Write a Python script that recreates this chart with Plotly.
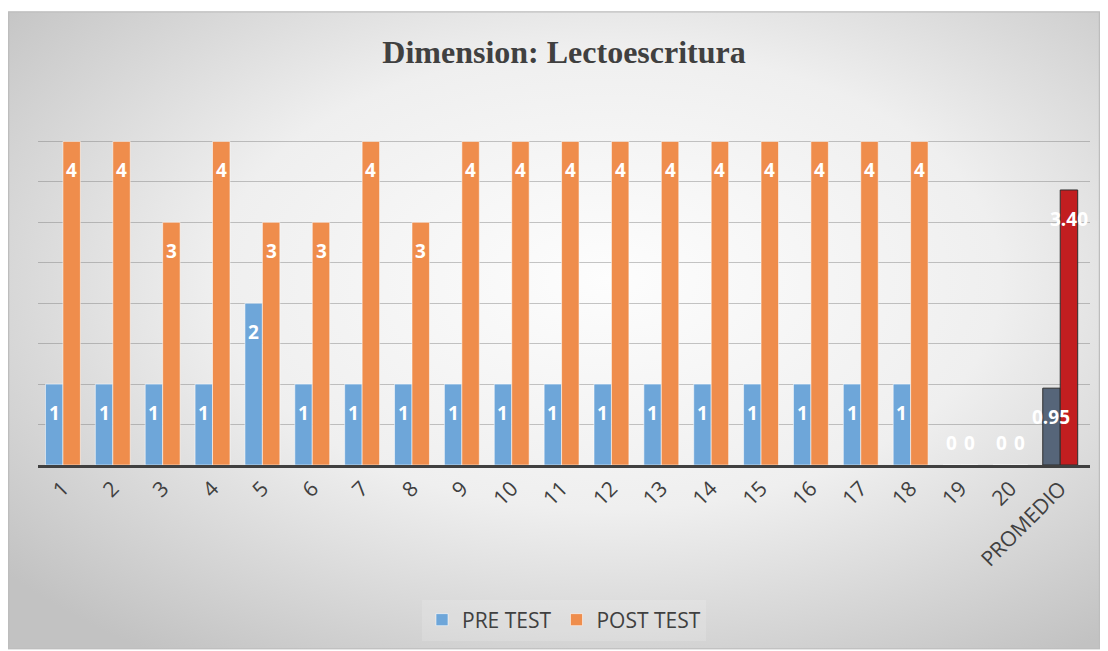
import base64
import plotly.graph_objects as go

# data
categories = [str(i) for i in range(1, 21)] + ["PROMEDIO"]
pre_test = [1, 1, 1, 1, 2, 1, 1, 1, 1, 1, 1, 1, 1, 1, 1, 1, 1, 1, 0, 0, 0.95]
post_test = [4, 4, 3, 4, 3, 3, 4, 3, 4, 4, 4, 4, 4, 4, 4, 4, 4, 4, 0, 0, 3.40]

# page body adds an 8px margin, so the figure is 8px smaller than the window
W, H = 1100, 643
ML, MR, MT, MB = 30, 18, 93, 185
PW, PH = W - ML - MR, H - MT - MB
BARGAP = 0.3
SHIFT = PW / len(categories) * (1 - BARGAP) / 4  # half a bar width, in px

BLUE = "#6ea6d9"
ORANGE = "#ef8d4c"
SLATE = "#566579"
RED = "#c21e20"
LABEL_FONT = dict(family="Open Sans", size=19, color="white", weight="bold")


def label(cat, v):
    return f"{v:.2f}" if cat == "PROMEDIO" else f"{v:g}"


def per_point(base, last):
    return [base] * (len(categories) - 1) + [last]


fig = go.Figure()
series = [("PRE TEST", pre_test, BLUE, SLATE, -SHIFT),
          ("POST TEST", post_test, ORANGE, RED, SHIFT)]
for name, vals, col, last, dx in series:
    fig.add_trace(go.Bar(
        x=categories, y=vals, name=name,
        marker=dict(color=per_point(col, last),
                    line=dict(color=per_point("rgba(255,255,255,0.55)", "#2e2e2e"), width=1)),
        hoverinfo="x+y",
    ))

# value labels drawn on top of all bars (the 0.95 label overlaps the red bar)
# x is the category index: numeric-looking category names would be misread
for name, vals, col, last, dx in series:
    for i, (cat, v) in enumerate(zip(categories, vals)):
        fig.add_annotation(
            x=i, y=v, text=label(cat, v), showarrow=False,
            xshift=dx, yanchor="top", yshift=37 if v == 0 else -14,
            font=LABEL_FONT,
        )

# soft radial background like the office chart style
svg = (
    "<svg xmlns='http://www.w3.org/2000/svg' width='1092' height='640'>"
    "<defs><radialGradient id='g' cx='0.55' cy='0.42' r='0.72'>"
    "<stop offset='0' stop-color='#fdfdfd'/><stop offset='0.5' stop-color='#efefef'/>"
    "<stop offset='1' stop-color='#c2c2c2'/></radialGradient></defs>"
    "<rect x='0.5' y='0.5' width='1091' height='639' fill='url(#g)' stroke='#bdbdbd' stroke-width='1.5'/>"
    "</svg>"
)
src = "data:image/svg+xml;base64," + base64.b64encode(svg.encode()).decode()
fig.add_layout_image(dict(
    source=src, xref="paper", yref="paper",
    x=(0 - ML) / PW, y=(H - MB - 3) / PH,
    sizex=1092 / PW, sizey=640 / PH,
    xanchor="left", yanchor="top", sizing="stretch", layer="below",
))

fig.update_layout(
    width=W, height=H,
    margin=dict(l=ML, r=MR, t=MT, b=MB),
    paper_bgcolor="white",
    plot_bgcolor="rgba(0,0,0,0)",
    barmode="group",
    bargap=BARGAP,
    bargroupgap=0.0,
    title=dict(text="<b>Dimension: Lectoescritura</b>", x=(564 - 8) / W, xanchor="center",
               y=1 - 44 / H, yanchor="middle",
               font=dict(family="Liberation Serif", size=32, color="#404040")),
    xaxis=dict(type="category", tickangle=-45, showline=True, linecolor="#404040", linewidth=3,
               tickfont=dict(family="Open Sans", size=21, color="#404040"),
               ticks="", showgrid=False),
    yaxis=dict(range=[0, 4.5], dtick=0.5, showticklabels=False,
               gridcolor="rgba(120,120,120,0.42)", gridwidth=1, zeroline=False),
    legend=dict(orientation="h", x=0.5, xanchor="center",
                y=(H - MB - 612) / PH, yanchor="middle",
                bgcolor="rgba(255,255,255,0.15)",
                font=dict(family="Open Sans", size=21, color="#404040"),
                itemwidth=30),
    showlegend=True,
)

fig.write_html("out.html")
